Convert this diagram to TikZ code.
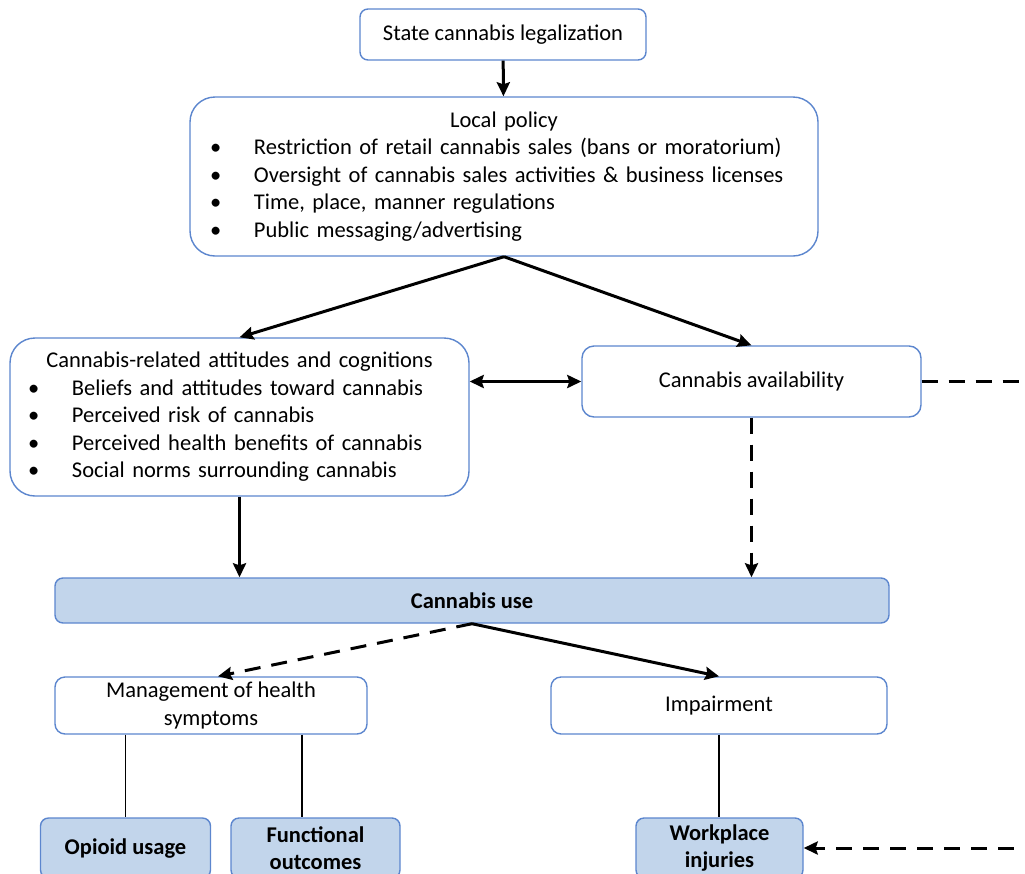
\documentclass[tikz,border=0pt]{standalone}
\usepackage{fontspec}
\setmainfont{Carlito}
\usetikzlibrary{arrows.meta,calc}
\definecolor{boxline}{RGB}{92,134,206}
\definecolor{boxfill}{RGB}{194,213,235}
\newcommand{\bodyfont}{\fontsize{22.5}{27.5}\selectfont}
\tikzset{
  box/.style={draw=boxline, line width=1.4pt, fill=white, rounded corners=#1, inner sep=0pt, align=center},
  box/.default=10pt,
  usebox/.style={box=#1, fill=boxfill, font=\bodyfont\bfseries},
  usebox/.default=8pt,
  conn/.style={line width=3pt, -{Stealth[length=14pt,width=13pt,inset=2pt]}},
  dashconn/.style={conn, dash pattern=on 16pt off 11pt},
  thinline/.style={line width=1.3pt}
}
\newcommand{\bl}[1]{\hspace*{20pt}\makebox[44pt][l]{\textbullet}#1\par}
\begin{document}
\begin{tikzpicture}[x=1pt, y=-1pt, line join=round, font=\bodyfont]
  \def\xmax{1025} \def\ymax{873}
  \useasboundingbox (0,0) rectangle (\xmax,\ymax);
  \clip (0,0) rectangle (\xmax,\ymax);
  % boxes
  \node[box=8pt, minimum width=286pt, minimum height=51pt] (state) at (503,34.5) {State cannabis legalization};
  \node[box=25pt, minimum width=628pt, minimum height=159pt, text width=628pt, align=left] (policy) at (504,176.5)
    {\centering Local policy\par
     \raggedright
     \bl{Restriction of retail cannabis sales (bans or moratorium)}
     \bl{Oversight of cannabis sales activities \& business licenses}
     \bl{Time, place, manner regulations}
     \bl{Public messaging/advertising}};
  \node[box=25pt, minimum width=459pt, minimum height=158pt, text width=459pt, align=left] (attit) at (239.5,417)
    {\centering Cannabis-related attitudes and cognitions\par
     \raggedright
     \hspace*{-2pt}\bl{Beliefs and attitudes toward cannabis}
     \hspace*{-2pt}\bl{Perceived risk of cannabis}
     \hspace*{-2pt}\bl{Perceived health benefits of cannabis}
     \hspace*{-2pt}\bl{Social norms surrounding cannabis}};
  \node[box=12pt, minimum width=339pt, minimum height=71pt] (avail) at (751.5,381.5) {Cannabis availability};
  \node[usebox, minimum width=834pt, minimum height=45pt] (use) at (472,600.5) {Cannabis use};
  \node[box, minimum width=312pt, minimum height=57pt] (manage) at (211,705.5) {Management of health\\symptoms};
  \node[box, minimum width=336pt, minimum height=57pt] (impair) at (719,705.5) {Impairment};
  \node[usebox, minimum width=170pt, minimum height=60pt] (opioid) at (125.5,848) {Opioid usage};
  \node[usebox, minimum width=169pt, minimum height=60pt] (funct) at (315.5,848) {Functional\\outcomes};
  \node[usebox, minimum width=167pt, minimum height=60pt] (work) at (719.5,848) {Workplace\\injuries};
  \coordinate (turn) at (1045,0);
  % connectors
  \draw[conn] (state) -- (policy);
  \draw[conn] (policy.south) -- (attit.north);
  \draw[conn] (policy.south) -- (avail.north);
  \draw[line width=3pt, {Stealth[length=14pt,width=13pt,inset=2pt]}-{Stealth[length=14pt,width=13pt,inset=2pt]}]
    (avail.west -| attit.east) -- (avail.west);
  \draw[conn] (attit.south) -- (attit.south |- use.north);
  \draw[dashconn] (avail.south) -- (avail.south |- use.north);
  \draw[dashconn] (use.south) -- ([xshift=7pt]manage.north);
  \draw[conn] (use.south) -- (impair.north);
  \draw[thinline] (opioid.north |- manage.south) -- (opioid.north);
  \draw[thinline] ([xshift=91pt]manage.south) -- ([xshift=91pt]manage.south |- funct.north);
  \draw[thinline] (impair.south) -- (impair.south |- work.north);
  \draw[dashconn] (avail.east) -- (avail.east -| turn) -- (work.east -| turn) -- (work.east);
\end{tikzpicture}
\end{document}
